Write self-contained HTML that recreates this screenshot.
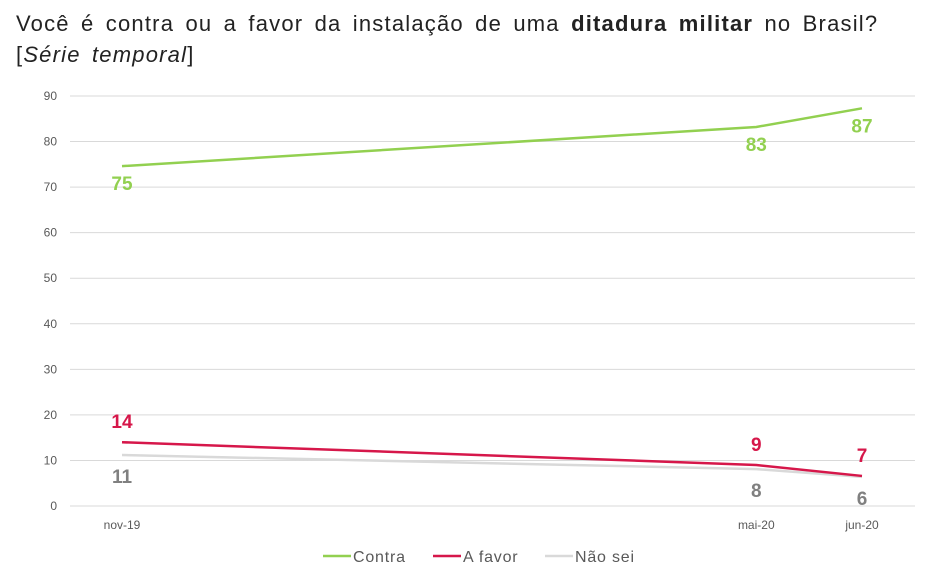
<!DOCTYPE html>
<html><head><meta charset="utf-8"><style>
body{margin:0;background:#fff;font-family:"Liberation Sans",sans-serif;}
#wrap{position:relative;width:931px;height:582px;overflow:hidden;}
.title{position:absolute;left:16px;top:8px;font-size:22px;letter-spacing:1.2px;word-spacing:4px;line-height:31px;color:#222;white-space:nowrap;}
</style></head><body>
<div id="wrap">
<div class="title">Você é contra ou a favor da instalação de uma <b>ditadura militar</b> no Brasil?<br>[<i>Série temporal</i>]</div>
<svg id="chart" width="931" height="582" style="position:absolute;left:0;top:0"></svg>
</div>
<script>
const categories=["nov-19","mai-20","jun-20"];
const monthIndex=[0,6,7];
const contra=[74.6,83.2,87.3];
const aFavor=[14,9,6.6];
const naoSei=[11.2,8.1,6.4];
const contraLabels=["75","83","87"];
const aFavorLabels=["14","9","7"];
const naoSeiLabels=["11","8","6"];
const yTicks=[0,10,20,30,40,50,60,70,80,90];
const NS="http://www.w3.org/2000/svg";
const svg=document.getElementById('chart');
const x=m=>122+m*(862-122)/7;
const y=v=>506-v*(506-96)/90;
function mk(t,a){const e=document.createElementNS(NS,t);for(const k in a)e.setAttribute(k,a[k]);svg.appendChild(e);return e;}
yTicks.forEach(t=>{
 const g=mk('line',{x1:70,x2:915,y1:y(t),y2:y(t),stroke:'#d9d9d9','stroke-width':1});
 
 
 const l=mk('text',{x:57,y:y(t)+4,'text-anchor':'end','font-size':12,fill:'#595959'});
 l.textContent=t;
 
 
});
categories.forEach((c,i)=>{
 const l=mk('text',{x:x(monthIndex[i]),y:529,'text-anchor':'middle','font-size':12,fill:'#595959'});
 l.textContent=c;
 
 
});
const series=[
 {name:'contra',vals:contra,labs:contraLabels,color:'#92D050',lc:'#92D050',dy:24},
 {name:'nao-sei',vals:naoSei,labs:naoSeiLabels,color:'#D9D9D9',lc:'#808080',dy:28},
 {name:'a-favor',vals:aFavor,labs:aFavorLabels,color:'#D6174A',lc:'#D6174A',dy:-14}
];
series.forEach(s=>{
 const p=mk('polyline',{points:s.vals.map((v,i)=>x(monthIndex[i])+','+y(v)).join(' '),fill:'none',stroke:s.color,'stroke-width':2.5});
 
 
 s.vals.forEach((v,i)=>{
  const t=mk('text',{x:x(monthIndex[i]),y:y(v)+s.dy,'text-anchor':'middle','font-size':19,'font-weight':'bold',fill:s.lc});
  t.textContent=s.labs[i];
  
  
 });
});
const leg=[['Contra','#92D050',323],['A favor','#D6174A',433],['Não sei','#D9D9D9',545]];
leg.forEach(([n,c,lx])=>{
 const l=mk('line',{x1:lx,x2:lx+28,y1:556,y2:556,stroke:c,'stroke-width':2.5});
 
 
 const t=mk('text',{x:lx+30,y:562,'font-size':16,'letter-spacing':0.8,fill:'#595959'});
 t.textContent=n;
 
 
});
</script>
</body></html>
